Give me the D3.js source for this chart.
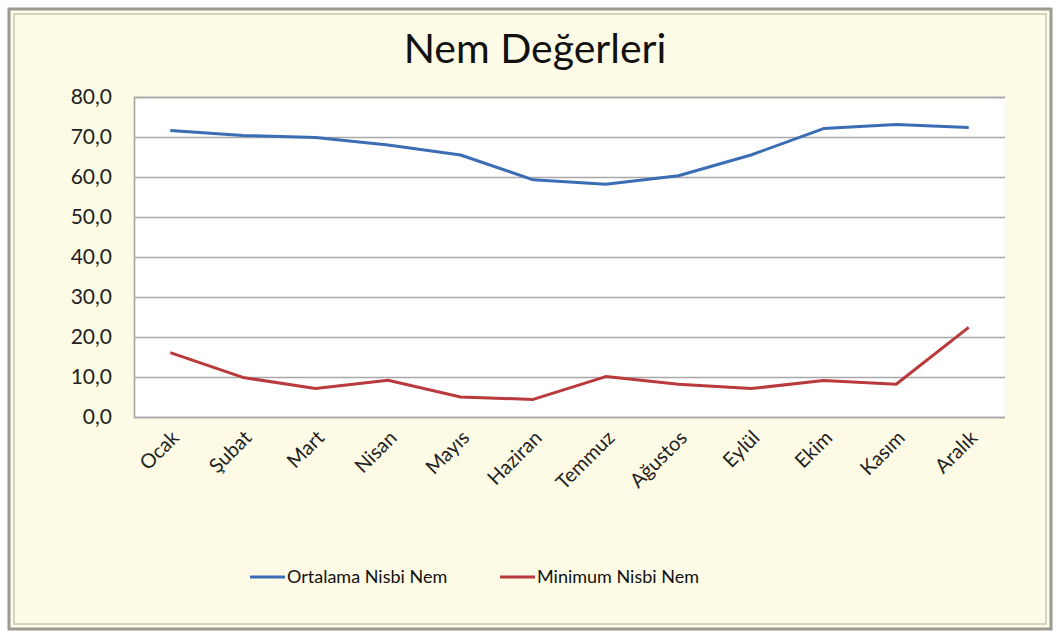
<!DOCTYPE html>
<html>
<head>
<meta charset="utf-8">
<script src="https://cdn.jsdelivr.net/npm/d3@7"></script>
<style>
  body { margin: 0; background: #fff; }
  svg { display: block; font-family: "Lato", "Open Sans", sans-serif; }
</style>
</head>
<body>
<svg id="chart" width="1058" height="632"></svg>
<script>
const months = ['Ocak', 'Şubat', 'Mart', 'Nisan', 'Mayıs', 'Haziran', 'Temmuz', 'Ağustos', 'Eylül', 'Ekim', 'Kasım', 'Aralık'];
const ortalama = [71.6, 70.4, 69.9, 68.0, 65.5, 59.3, 58.2, 60.3, 65.5, 72.1, 73.1, 72.4];
const minimum = [16.1, 9.9, 7.1, 9.2, 5.0, 4.4, 10.1, 8.2, 7.1, 9.1, 8.2, 22.4];
const yTicks = [0, 10, 20, 30, 40, 50, 60, 70, 80];
const seriesNames = ['Ortalama Nisbi Nem', 'Minimum Nisbi Nem'];
const seriesColors = ['#3b6db4', '#b93a3c'];

const svg = d3.select('#chart');
const plot = { left: 134, top: 97, right: 1005, bottom: 417 };

// frame
svg.append('rect').attr('x', 9).attr('y', 9).attr('width', 1042).attr('height', 620)
  .attr('fill', '#fdfbe5').attr('stroke', '#9c9a92').attr('stroke-width', 3);
svg.append('rect').attr('x', 14).attr('y', 14).attr('width', 1032).attr('height', 610)
  .attr('fill', 'none').attr('stroke', '#c8c6bc').attr('stroke-width', 1.5);

svg.append('text').attr('x', 535).attr('y', 63).attr('text-anchor', 'middle')
  .attr('font-size', 41).attr('fill', '#111').text('Nem Değerleri');

const x = d3.scaleBand().domain(months).range([plot.left, plot.right]);
const y = d3.scaleLinear().domain([0, 80]).range([plot.bottom, plot.top]);

svg.append('rect').attr('x', plot.left).attr('y', plot.top)
  .attr('width', plot.right - plot.left).attr('height', plot.bottom - plot.top)
  .attr('fill', '#fff');

const yAxis = svg.append('g').attr('transform', `translate(${plot.left},0)`)
  .call(d3.axisLeft(y).tickValues(yTicks).tickSize(-(plot.right - plot.left))
    .tickPadding(22).tickFormat(d => d3.format('.1f')(d).replace('.', ',')))
  .attr('font-family', 'Lato, sans-serif');
yAxis.select('.domain').attr('stroke', '#a0a0a0').attr('stroke-width', 1.5);
yAxis.selectAll('.tick line').attr('stroke', '#a8a8a8').attr('stroke-width', 1.5);
yAxis.selectAll('.tick text').attr('font-size', 21).attr('fill', '#222');

const xAxis = svg.append('g').attr('transform', `translate(0,${plot.bottom})`)
  .call(d3.axisBottom(x).tickSize(0).tickPadding(0))
  .attr('font-family', 'Lato, sans-serif');
xAxis.select('.domain').remove();
xAxis.selectAll('.tick text')
  .attr('font-size', 20).attr('fill', '#222').attr('text-anchor', 'end')
  .attr('dy', 0)
  .attr('transform', 'translate(10,22) rotate(-45)');

const line = d3.line().x((d, i) => x(months[i]) + x.bandwidth() / 2).y(d => y(d));
[ortalama, minimum].forEach((s, i) => {
  svg.append('path').datum(s).attr('d', line).attr('fill', 'none')
    .attr('stroke', seriesColors[i]).attr('stroke-width', 3).attr('stroke-linejoin', 'round');
});

const legendX = [250, 500];
seriesNames.forEach((n, i) => {
  const g = svg.append('g').attr('transform', `translate(${legendX[i]},577)`);
  g.append('line').attr('x1', 0).attr('x2', 35).attr('stroke', seriesColors[i]).attr('stroke-width', 3);
  g.append('text').attr('x', 37).attr('dy', '0.35em').attr('font-size', 18).attr('fill', '#111').text(n);
});
</script>
</body>
</html>
